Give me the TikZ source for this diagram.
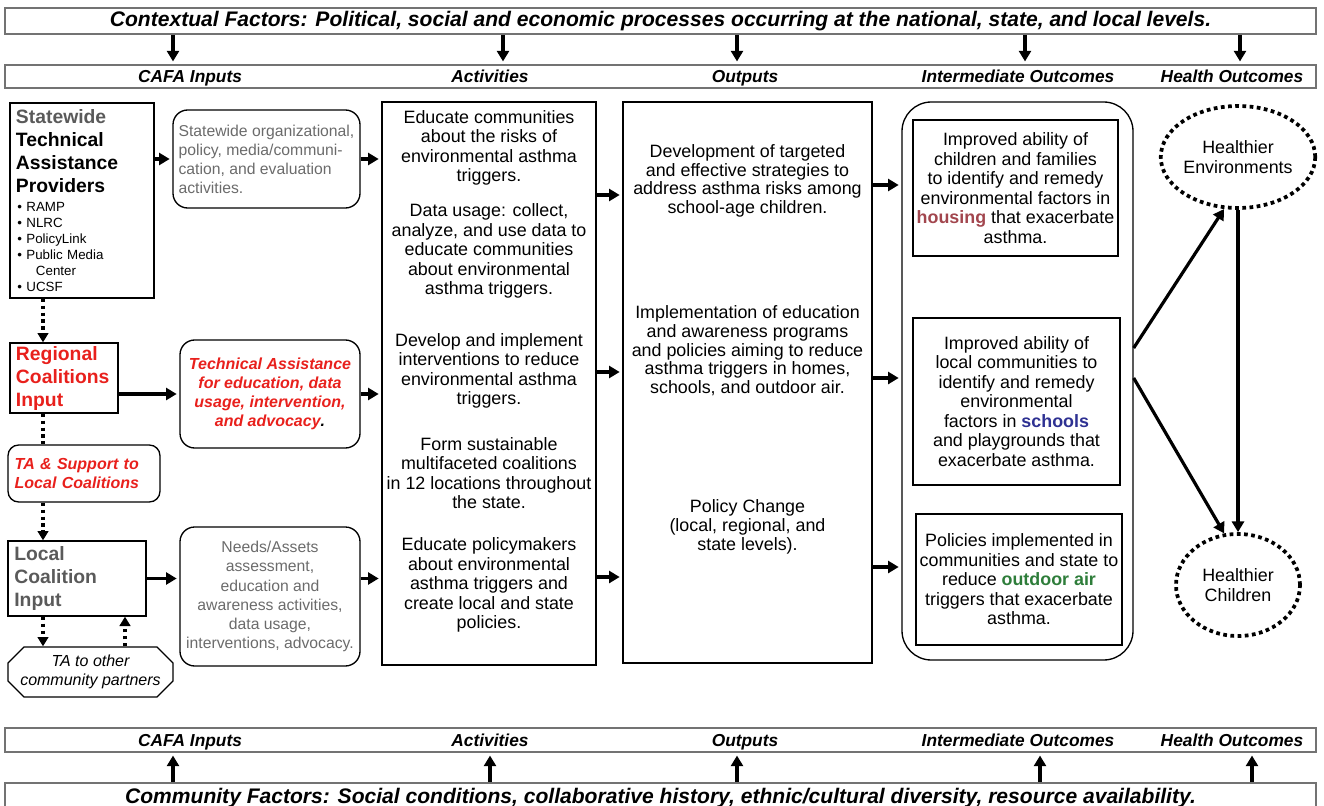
\documentclass[tikz,border=0pt]{standalone}
\usepackage{fontspec}
\setmainfont{Liberation Sans}
\usetikzlibrary{arrows.meta,shapes.geometric,shapes.misc}
\definecolor{capred}{HTML}{E8201C}
\definecolor{capgray}{HTML}{5A5A5A}
\definecolor{softgray}{HTML}{6B6B6B}
\definecolor{housingred}{HTML}{A2464E}
\definecolor{schoolblue}{HTML}{2E3192}
\definecolor{airgreen}{HTML}{2E7D3A}
\tikzset{
  wh/.style 2 args={minimum width=#1*.75pt, minimum height=#2*.75pt},
  box/.style={draw, line width=1pt, inner sep=0pt},
  rbox/.style={box, rounded corners=11pt},
  bar/.style={draw=black!55, line width=1.3pt, inner sep=0pt},
  hdr/.style={inner sep=0pt, anchor=base, font=\fontsize{13}{15}\selectfont\bfseries\itshape},
  txt/.style={inner sep=0pt, align=center, font=\fontsize{13.4}{14.6}\selectfont},
  arr/.style={line width=2.4pt, -{Triangle[length=8pt,width=9pt]}, shorten >=2pt},
  dotarr/.style={line width=2.6pt, dash pattern=on 2.6pt off 2.6pt, -{Triangle[length=7pt,width=8pt]}},
  dotline/.style={line width=2.6pt, dash pattern=on 2.6pt off 2.6pt},
  health/.style={draw, ellipse, line width=2.8pt, dash pattern=on 2.8pt off 2.6pt, wh={124}{102}, txt},
}
\begin{document}
\begin{tikzpicture}[x=.75pt, y=-.75pt]
\useasboundingbox (0,0) rectangle (1324,806);

\node[bar, wh={1311}{26}, font=\fontsize{15.8}{17}\selectfont\bfseries\itshape] (ctx) at (660.5,21)
  {Contextual Factors: Political, social and economic processes occurring at the national, state, and local levels.};
\node[bar, wh={1311}{23}] (hbar) at (660.5,76.5) {};
\node[bar, wh={1311}{24}] (fbar) at (660.5,740) {};
\node[bar, wh={1311}{30}, font=\fontsize{15.8}{17}\selectfont\bfseries\itshape] (com) at (660.5,798)
  {Community Factors: Social conditions, collaborative history, ethnic/cultural diversity, resource availability.};
\foreach \x/\t [count=\i] in {190/CAFA Inputs, 490/Activities, 745/Outputs, 1018/Intermediate Outcomes, 1232/Health Outcomes} {
  \node[hdr] (top\i) at (\x,82.5) {\t};
  \node[hdr] (bot\i) at (\x,746) {\t};
}
\foreach \x in {173,503,737,1025,1240} {\coordinate (c) at (\x,0); \draw[arr] (ctx.south -| c) -- (hbar.north -| c);}
\foreach \x in {173,490,737,1040,1252} {\coordinate (c) at (\x,0); \draw[arr] (com.north -| c) -- (fbar.south -| c);}

\node[box, wh={144}{195}, inner xsep=4.5pt, text width=99pt, align=left] (sw) at (82,200.5) {%
  \fontsize{14.5}{17.25}\selectfont\bfseries{\color{capgray}Statewide}\\ Technical\\ Assistance\\ Providers\\[2pt]
  \fontsize{10}{12}\selectfont\mdseries
  \hspace*{1pt}\textbullet\ RAMP\\ \hspace*{1pt}\textbullet\ NLRC\\ \hspace*{1pt}\textbullet\ PolicyLink\\
  \hspace*{1pt}\textbullet\ Public Media\\ \hspace*{15pt}Center\\ \hspace*{1pt}\textbullet\ UCSF};
\node[rbox, wh={187}{98}, align=left, text=softgray, font=\fontsize{11.8}{14.2}\selectfont] (r1) at (266.5,159)
  {Statewide organizational,\\ policy, media/communi-\\cation, and evaluation\\ activities.};
\node[box, wh={108}{70}, inner xsep=4.5pt, text width=72pt, align=left, text=capred,
  font=\fontsize{14.5}{17.25}\selectfont\bfseries] (rc) at (64,378) {Regional\\ Coalitions\\ Input};
\node[rbox, wh={180}{108}, align=center, text=capred, font=\fontsize{12}{14.3}\selectfont\bfseries\itshape] (r2) at (270,394)
  {Technical Assistance\\ for education, data\\ usage, intervention,\\ and advocacy{\color{black}.}};
\node[rbox, rounded corners=8pt, wh={152}{57}, inner xsep=5pt, text width=104pt, align=left, text=capred,
  font=\fontsize{12}{14}\selectfont\bfseries\itshape] (ta) at (84,473.5) {TA \& Support to\\ Local Coalitions};
\node[box, wh={138}{75}, inner xsep=4.5pt, text width=94pt, align=left, text=capgray,
  font=\fontsize{14.5}{17.25}\selectfont\bfseries] (lc) at (77,578.5) {Local\\ Coalition\\ Input};
\node[rbox, wh={180}{139}, align=center, text=softgray, font=\fontsize{11.8}{14.3}\selectfont] (r3) at (270,596.5)
  {Needs/Assets\\ assessment,\\ education and\\ awareness activities,\\ data usage,\\ interventions, advocacy.};
\node[draw, line width=1pt, chamfered rectangle, chamfered rectangle xsep=6pt, chamfered rectangle ysep=6pt,
  inner sep=0pt, wh={165}{50}, align=center, font=\fontsize{12}{14}\selectfont\itshape] (tp) at (90.5,672)
  {TA to other\\ community partners};

\coordinate (vx) at (43,0); \coordinate (vy) at (125,0);
\draw[arr] (sw.east |- r1.west) -- (r1.west);
\draw[arr] (rc.east |- r2.west) -- (r2.west);
\draw[arr] (lc.east) -- (lc.east -| r3.west);
\draw[dotarr] (sw.south -| vx) -- (rc.north -| vx);
\draw[dotline] (rc.south -| vx) -- (ta.north -| vx);
\draw[dotarr] (ta.south -| vx) -- (lc.north -| vx);
\draw[dotarr] (lc.south -| vx) -- (tp.north -| vx);
\draw[dotarr] (tp.north -| vy) -- (lc.south -| vy);

\node[box, wh={214}{563}] (act) at (489,383.5) {};
\node[txt] (a1) at (489,148) {Educate communities\\ about the risks of\\ environmental asthma\\ triggers.};
\node[txt] (a2) at (489,251) {Data usage: collect,\\ analyze, and use data to\\ educate communities\\ about environmental\\ asthma triggers.};
\node[txt] (a3) at (489,371) {Develop and implement\\ interventions to reduce\\ environmental asthma\\ triggers.};
\node[txt] (a4) at (489,473) {Form sustainable\\ multifaceted coalitions\\ in 12 locations throughout\\ the state.};
\node[txt] (a5) at (489,585) {Educate policymakers\\ about environmental\\ asthma triggers and\\ create local and state\\ policies.};
\draw[arr] (r1.east) -- (r1.east -| act.west);
\draw[arr] (r2.east) -- (r2.east -| act.west);
\draw[arr] (r3.east |- lc.east) -- (act.west |- lc.east);

\node[box, wh={249}{561}] (out) at (747.5,382.5) {};
\node[txt, font=\fontsize{13.4}{14}\selectfont] (o1) at (747.5,181) {Development of targeted\\ and effective strategies to\\ address asthma risks among\\ school-age children.};
\node[txt, font=\fontsize{13.4}{14}\selectfont] (o2) at (747.5,351) {Implementation of education\\ and awareness programs\\ and policies aiming to reduce\\ asthma triggers in homes,\\ schools, and outdoor air.};
\node[txt, font=\fontsize{13.4}{14}\selectfont] (o3) at (747.5,527) {Policy Change\\ (local, regional, and\\ state levels).};
\foreach \y in {195,372,577} {\coordinate (row) at (0,\y); \draw[arr] (act.east |- row) -- (out.west |- row);}

\node[box, rounded corners=22pt, wh={231}{558}] (int) at (1017.5,381) {};
\node[box, wh={205}{136}, txt] (ia) at (1015.5,188) {Improved ability of\\ children and families\\ to identify and remedy\\ environmental factors in\\ {\bfseries\color{housingred}housing} that exacerbate\\ asthma.};
\node[box, wh={207}{167}, txt] (ib) at (1016.5,401.5) {Improved ability of\\ local communities to\\ identify and remedy\\ environmental\\ factors in {\bfseries\color{schoolblue}schools}\\ and playgrounds that\\ exacerbate asthma.};
\node[box, wh={206}{131}, txt] (ic) at (1019,579.5) {Policies implemented in\\ communities and state to\\ reduce {\bfseries\color{airgreen}outdoor air}\\ triggers that exacerbate\\ asthma.};
\foreach \y in {185,378,567} {\coordinate (row) at (0,\y); \draw[arr] (out.east |- row) -- (int.west |- row);}

\node[health] (he) at (1238,157) {Healthier\\ Environments};
\node[health] (hc) at (1238,585) {Healthier\\ Children};
\draw[arr, shorten >=0pt] (int.east) ++(0,-33) -- (he.255);
\draw[arr, shorten >=0pt] (int.east) ++(0,-3) -- (hc.105);
\draw[arr, shorten >=0pt] (he.south) -- (hc.north);
\end{tikzpicture}
\end{document}
